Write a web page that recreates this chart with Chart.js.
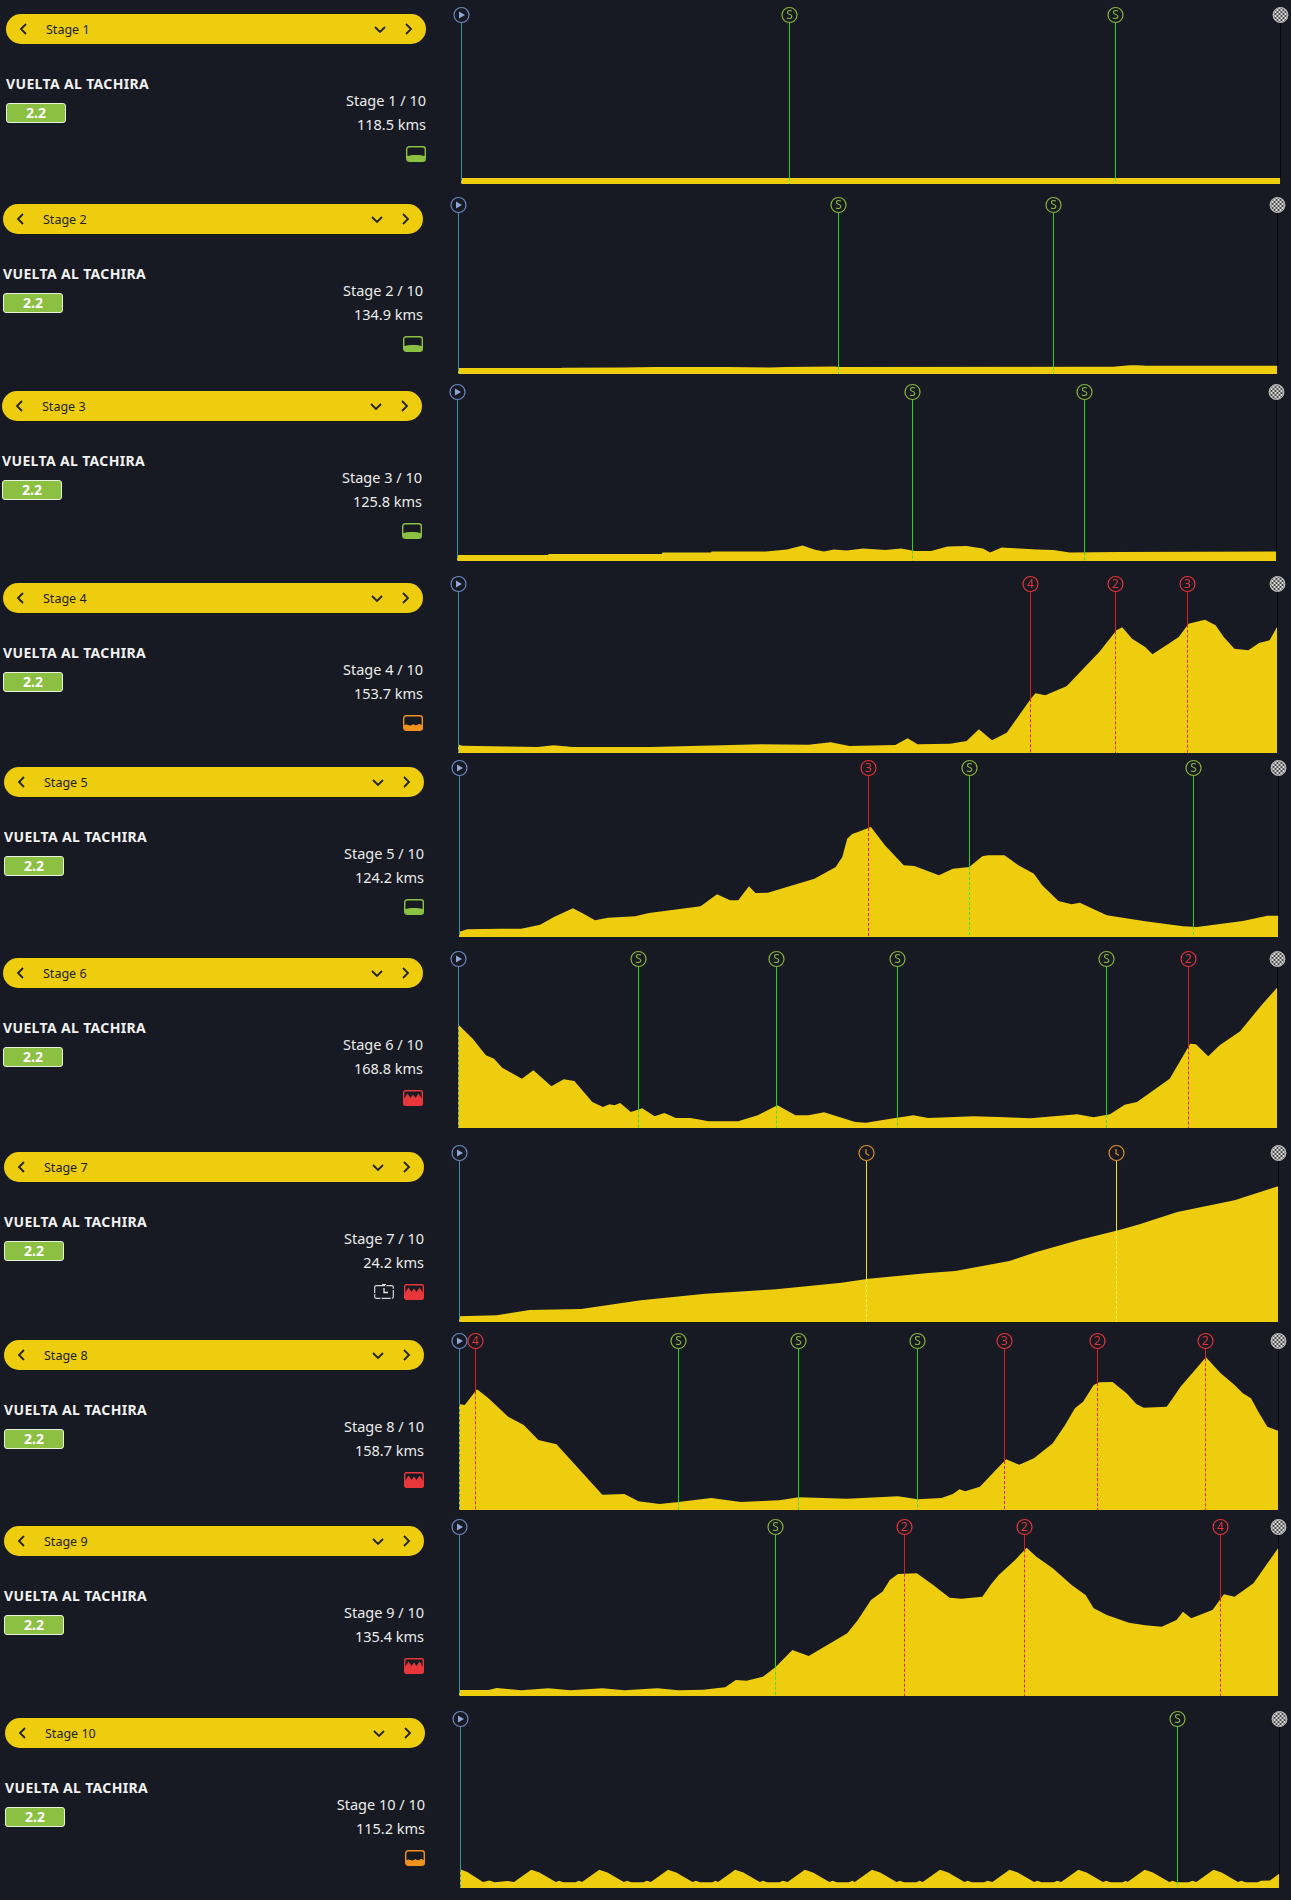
<!DOCTYPE html>
<html>
<head>
<meta charset="utf-8">
<title>Vuelta al Tachira</title>
<script src="https://cdn.jsdelivr.net/npm/chart.js@4"></script>
<style>
  html, body { margin: 0; padding: 0; background: #171a22; }
  body { position: relative; width: 1291px; height: 1900px; overflow: hidden; font-family: "Noto Sans", "Open Sans", sans-serif; color: #f0f0f0; }
  canvas { position: absolute; }
  .pill { position: absolute; width: 420px; height: 30px; border-radius: 15px; background: #edcd0e; color: #22231c; font-size: 12.5px; line-height: 31px; }
  .pill span { position: absolute; left: 40px; top: 0; }
  .pill svg { position: absolute; top: 9px; }
  .race { position: absolute; font-size: 14px; line-height: 20px; font-weight: 700; letter-spacing: 0.35px; color: #f2f2f2; }
  .badge { position: absolute; width: 58px; height: 18px; border: 1px solid #e9f3dc; border-radius: 3px; background: #8bc043; color: #fff; font-size: 14px; line-height: 18px; font-weight: 700; text-align: center; }
  .info { position: absolute; width: 200px; text-align: right; font-size: 14.5px; line-height: 20px; color: #ececec; }
  .terrain { position: absolute; }
</style>
</head>
<body>
<script>
const stageNames = ["Stage 1", "Stage 2", "Stage 3", "Stage 4", "Stage 5", "Stage 6", "Stage 7", "Stage 8", "Stage 9", "Stage 10"];
const stageCounts = ["Stage 1 / 10", "Stage 2 / 10", "Stage 3 / 10", "Stage 4 / 10", "Stage 5 / 10", "Stage 6 / 10", "Stage 7 / 10", "Stage 8 / 10", "Stage 9 / 10", "Stage 10 / 10"];
const stageKms = ["118.5 kms", "134.9 kms", "125.8 kms", "153.7 kms", "124.2 kms", "168.8 kms", "24.2 kms", "158.7 kms", "135.4 kms", "115.2 kms"];
const stageTerrain = ["flat", "flat", "flat", "hilly", "flat", "mountain", "mountain", "mountain", "mountain", "hilly"];
const raceName = "VUELTA AL TACHIRA";
const raceClass = "2.2";

// x = percent of the stage, y = height of the profile
const stage1X = [0, 100];
const stage1Y = [6, 6];
const stage1MarkX = [40.1, 79.9];
const stage1MarkType = ["S", "S"];

const stage2X = [0, 12.6, 12.7, 20, 24, 33, 38, 40, 46, 46.5, 80, 82, 83, 84, 100];
const stage2Y = [5.9, 5.9, 6.3, 6.5, 7, 7, 6.5, 7.1, 7.5, 7.1, 7.2, 8.7, 8.7, 8.2, 8.2];
const stage2MarkX = [46.4, 72.7];
const stage2MarkType = ["S", "S"];

const stage3X = [0, 11.1, 11.2, 25, 25.1, 31, 31.1, 37.7, 40.3, 42.2, 43.6, 44.8, 46, 47.6, 49.6, 52.3, 54.2, 55.9, 57.9, 59.9, 62.2, 64.2, 65.1, 66.5, 70.8, 72.8, 74.8, 80.7, 100];
const stage3Y = [6, 6, 7, 7, 8.5, 8.5, 9.5, 9.5, 11.5, 15.5, 11.5, 9.5, 11.5, 10.5, 12.5, 11, 12.5, 10, 10, 14.5, 15, 12.5, 8.5, 13.5, 11.5, 11, 8.5, 9, 9.5];
const stage3MarkX = [55.6, 76.6];
const stage3MarkType = ["S", "S"];

const stage4X = [0, 0.5, 9.7, 11.7, 14, 23.6, 29.6, 32.3, 36.9, 42.8, 45.5, 47.8, 53.4, 54.9, 56.1, 60.1, 62.1, 63.6, 65.2, 67, 69.9, 70.5, 71.7, 74.3, 78.3, 80.4, 81.1, 82.3, 83.9, 84.8, 86.9, 88, 89.2, 91.2, 92.5, 93.5, 94.8, 96.5, 97.8, 99.1, 100];
const stage4Y = [8.7, 7.3, 6, 7.7, 6, 6, 7.3, 7.7, 8.7, 8.3, 10.7, 7, 8, 14.7, 8.7, 9.3, 12, 23.7, 12.7, 20.3, 53.7, 59.7, 57.7, 66.7, 101, 122.7, 125.7, 114.3, 106, 98.7, 110, 116, 129.3, 133.3, 127.7, 116, 104.3, 102.7, 110, 112.7, 126];
const stage4MarkX = [69.9, 80.3, 89.1];
const stage4MarkType = ["4", "2", "3"];

const stage5X = [0, 1, 5, 7.6, 9.9, 11.6, 13.9, 15.2, 16.6, 18.2, 21.5, 23.2, 29.5, 31.5, 33.1, 34.1, 35.4, 36.2, 37.7, 43.4, 46, 46.8, 47.4, 48, 48.7, 50.3, 52, 54.3, 55.6, 58.6, 60.3, 62.3, 63.9, 64.6, 66.6, 68.3, 70.2, 71.2, 73.2, 74.8, 75.8, 79.1, 83.8, 88.4, 90.1, 95.7, 98.7, 100];
const stage5Y = [5, 7.7, 8.3, 8.3, 12.3, 20, 28.7, 23.3, 16.7, 19.3, 20.7, 24, 30.7, 42.7, 36.7, 36.7, 50.7, 44, 44.3, 58.3, 70, 80, 98.3, 103, 105, 110, 91.7, 71.7, 71, 61.7, 68.3, 70, 80.7, 81.7, 81.7, 71.7, 63.3, 51.7, 36, 32.7, 34.3, 21.7, 15.7, 10.7, 10, 16, 21.3, 21.3];
const stage5MarkX = [50, 62.3, 89.7];
const stage5MarkType = ["3", "S", "S"];

const stage6X = [0, 1.8, 3.4, 4.4, 5.4, 7.8, 9.2, 11.4, 12.9, 14.2, 16.4, 17.7, 18.5, 19.1, 19.8, 21.1, 22.5, 24, 25.2, 26.6, 28.4, 30.6, 34.2, 36.6, 39, 41.2, 42.8, 44.7, 48.5, 49.8, 53.4, 55.6, 57.4, 63, 66, 69.9, 75.6, 77.6, 79.6, 81.4, 82.9, 86.9, 89.4, 90.1, 91.6, 93, 95.5, 98.1, 100];
const stage6Y = [103.7, 89.3, 72.7, 69.3, 60.3, 49.3, 57.7, 41.7, 48.7, 47, 26, 21, 23.7, 22.7, 25, 16, 19.7, 11.7, 15, 10, 10, 6.7, 6.7, 12.7, 22.7, 12.7, 12.7, 15.7, 6, 5.3, 10, 12.7, 10, 11.7, 11, 9.7, 13.7, 10.7, 13.7, 23.3, 26, 49.3, 84.3, 83.7, 71.7, 82.7, 96.7, 122.7, 140.3];
const stage6MarkX = [22, 38.9, 53.7, 79.2, 89.2];
const stage6MarkType = ["S", "S", "S", "S", "2"];

const stage7X = [0, 4.6, 8.6, 14.9, 22.2, 30.1, 38.7, 46.7, 50, 57.3, 60.6, 67.2, 70.5, 75.8, 80.5, 83.1, 87.7, 94.7, 100];
const stage7Y = [5.7, 6.7, 12, 13, 21.7, 28.3, 32.7, 39.3, 43.3, 49, 51, 61, 70, 82.3, 91.7, 97.7, 110, 121.7, 135.7];
const stage7MarkX = [49.7, 80.3];
const stage7MarkType = ["T", "T"];

const stage8X = [0, 0.7, 2.2, 3.6, 6, 7.9, 9.7, 11.9, 17.5, 20.2, 21.9, 24.5, 26.8, 30.8, 34.4, 39.1, 41.5, 47.4, 53.6, 56, 58.9, 60.3, 61.1, 61.8, 63.6, 66.8, 68.4, 70.2, 72.5, 74, 75.2, 76.2, 77.5, 78.2, 79.8, 81.5, 82.7, 83.6, 86.4, 87, 88.1, 91.2, 93, 94.7, 95.7, 96.7, 97.7, 98.7, 100];
const stage8Y = [106, 105, 120.7, 111.7, 93.3, 85, 70, 65.7, 15.3, 16, 8.7, 6, 8, 12, 8, 9.7, 12.7, 11.3, 13.7, 10.7, 12, 16, 20.7, 18.7, 23.3, 50.7, 45.3, 51.7, 66.7, 85, 101.7, 108.3, 125, 127.7, 128, 116.7, 106, 102.3, 103.3, 110, 123.3, 152.7, 136.7, 125, 116.7, 111.7, 96.7, 83.3, 79.3];
const stage8MarkX = [2, 26.8, 41.5, 56, 66.6, 78, 91.1];
const stage8MarkType = ["4", "S", "S", "S", "3", "2", "2"];

const stage9X = [0, 3.6, 4.6, 7.6, 10.9, 13.6, 17.5, 20.2, 24.2, 26.8, 29.8, 32.5, 33.8, 35.1, 37.1, 38.7, 40.7, 42.7, 47.4, 48.7, 50.3, 51.7, 52.6, 53.6, 55.9, 57.9, 59.9, 61.3, 63.9, 64.9, 65.9, 67.9, 69.3, 70.5, 72.5, 74.8, 76.5, 77.5, 79.1, 81.8, 83.8, 85.8, 87.6, 88.4, 89.4, 92, 93.4, 94.7, 97, 100];
const stage9Y = [6, 6, 8, 5.7, 7.7, 5.7, 7.7, 5.7, 7.7, 5.7, 6.3, 8.7, 16, 15.3, 19.3, 29.3, 46, 40, 62.7, 76, 96, 104.3, 116, 122, 122.7, 111, 98.3, 97.3, 99.3, 111, 121, 136, 148.3, 139.3, 127.7, 111, 101, 87.7, 81, 73.3, 70.7, 69.3, 76, 84.3, 77.7, 86, 101.7, 99.3, 112.7, 147.7];
const stage9MarkX = [38.7, 54.4, 69.1, 93];
const stage9MarkType = ["S", "2", "2", "4"];

const stage10X = [0, 0.9, 2.8, 3.6, 4.2, 5.8, 6.6, 8.7, 9.7, 11.7, 12.1, 12.6, 14.1, 14.5, 14.9, 17, 18, 20, 20.4, 20.9, 22.4, 22.8, 23.3, 25.4, 26.4, 28.4, 28.8, 29.3, 30.8, 31.2, 31.5, 33.6, 34.6, 36.6, 37, 37.5, 39, 39.4, 40, 42.1, 43.1, 45.1, 45.5, 46, 47.5, 47.9, 48.2, 50.3, 51.3, 53.3, 53.7, 54.2, 55.7, 56.1, 56.5, 58.6, 59.6, 61.6, 62, 62.5, 64, 64.4, 65, 67.1, 68.1, 70.1, 70.5, 71, 72.5, 72.9, 73.4, 75.5, 76.5, 78.5, 78.9, 79.4, 80.9, 81.3, 81.5, 83.6, 84.6, 86.6, 87, 87.5, 89, 89.4, 89.9, 92, 93, 95, 95.4, 95.9, 97.4, 97.8, 98.9, 100];
const stage10Y = [18.7, 16, 6, 7.5, 5.7, 7, 6, 18.3, 15.5, 6, 7.3, 5.7, 5.7, 7.2, 6, 18.3, 15.5, 6, 7.3, 5.7, 5.7, 7.2, 6, 18.3, 15.5, 6, 7.3, 5.7, 5.7, 7.2, 6, 18.3, 15.5, 6, 7.3, 5.7, 5.7, 7.2, 6, 18.3, 15.5, 6, 7.3, 5.7, 5.7, 7.2, 6, 18.3, 15.5, 6, 7.3, 5.7, 5.7, 7.2, 6, 18.3, 15.5, 6, 7.3, 5.7, 5.7, 7.2, 6, 18.3, 15.5, 6, 7.3, 5.7, 5.7, 7.2, 6, 18.3, 15.5, 6, 7.3, 5.7, 5.7, 7.2, 6, 18.3, 15.5, 6, 7.3, 5.7, 5.7, 7.2, 6, 18.3, 15.5, 6, 7.3, 5.7, 5.7, 7.2, 7.5, 14.3];
const stage10MarkX = [87.6];
const stage10MarkType = ["S"];

const stageXs = [stage1X, stage2X, stage3X, stage4X, stage5X, stage6X, stage7X, stage8X, stage9X, stage10X];
const stageYs = [stage1Y, stage2Y, stage3Y, stage4Y, stage5Y, stage6Y, stage7Y, stage8Y, stage9Y, stage10Y];
const stageMarkXs = [stage1MarkX, stage2MarkX, stage3MarkX, stage4MarkX, stage5MarkX, stage6MarkX, stage7MarkX, stage8MarkX, stage9MarkX, stage10MarkX];
const stageMarkTypes = [stage1MarkType, stage2MarkType, stage3MarkType, stage4MarkType, stage5MarkType, stage6MarkType, stage7MarkType, stage8MarkType, stage9MarkType, stage10MarkType];

// page layout of each row, the screenshot is not aligned perfectly
const rowLefts = [461, 458, 457, 458, 459, 458, 459, 459, 459, 460];
const rowBases = [184, 374, 561, 753, 937, 1128, 1322, 1510, 1696, 1888];

const PLOT_W = 819, PLOT_H = 169, PAD = 9;
const YELLOW = "#edcd0e";

const markStyles = {
  S: { ring: "#86b53c", above: "#22d422", below: "#3fdc2c" },
  T: { ring: "#e08e22", above: "#f5dc10", below: "#fff06a" },
  "2": { ring: "#e5323a", above: "#d81e1e", below: "#e52020" },
  "3": { ring: "#e5323a", above: "#d81e1e", below: "#e52020" },
  "4": { ring: "#e5323a", above: "#d81e1e", below: "#e52020" },
  start: { ring: "#6c8ac2", above: "#3a93a1", below: "#3a93a1" },
  finish: { ring: "#c8c8c8", above: "#05060a", below: "#1a1a12" },
};

const chevron = (pts, left) =>
  `<svg width="12" height="12" style="left:${left}px"><polyline points="${pts}" fill="none" stroke="#22231c" stroke-width="1.8"/></svg>`;

const terrainIcons = {
  flat: `<rect x=".7" y=".7" width="18.6" height="14.6" rx="2.5" fill="none" stroke="#8bc043" stroke-width="1.4"/><path d="M1 10c4-1.5 14-1.5 18 0v3a2 2 0 0 1-2 2H3a2 2 0 0 1-2-2z" fill="#8bc043"/>`,
  hilly: `<rect x=".7" y=".7" width="18.6" height="14.6" rx="2.5" fill="none" stroke="#f0921e" stroke-width="1.4"/><path d="M1 10.5c3-2 4 0 6 0s3-2 4-1 3 1 4 0 3 0 4 1v2.5a2 2 0 0 1-2 2H3a2 2 0 0 1-2-2z" fill="#f0921e"/>`,
  mountain: `<rect x=".7" y=".7" width="18.6" height="14.6" rx="1.5" fill="none" stroke="#e8373a" stroke-width="1.4"/><path d="M1 15V9l3.5-5.5L7.5 8 10 4.5 12.5 8l3-4.5L19 9v6z" fill="#e8373a"/>`,
  clock: `<rect x=".7" y="1.7" width="18.6" height="12.6" rx="1.5" fill="none" stroke="#d8d8d8" stroke-width="1.2" stroke-dasharray="9 1.2"/><path d="M10 4v4.5h4" fill="none" stroke="#e6e6e6" stroke-width="1.3"/><path d="M8 .5h4" stroke="#d8d8d8"/>`,
};

function addPanel(i) {
  const left = rowLefts[i] - 455, top = rowBases[i] - PLOT_H;
  const pill = document.createElement("div");
  pill.className = "pill";
  pill.style.left = left + "px";
  pill.style.top = (top - 1) + "px";
  pill.innerHTML = `<span>${stageNames[i]}</span>` +
    chevron("8,1 3,6 8,11", 12) + chevron("1,4 6,9 11,4", 368) + chevron("4,1 9,6 4,11", 396);
  document.body.appendChild(pill);

  const race = document.createElement("div");
  race.className = "race";
  race.style.left = left + "px";
  race.style.top = (top + 59) + "px";
  race.textContent = raceName;
  document.body.appendChild(race);

  const badge = document.createElement("div");
  badge.className = "badge";
  badge.style.left = left + "px";
  badge.style.top = (top + 88) + "px";
  badge.textContent = raceClass;
  document.body.appendChild(badge);

  [[stageCounts[i], 75], [stageKms[i], 99]].forEach(([text, dy]) => {
    const info = document.createElement("div");
    info.className = "info";
    info.style.left = (left + 220) + "px";
    info.style.top = (top + dy) + "px";
    info.textContent = text;
    document.body.appendChild(info);
  });

  const icons = stageNames[i] === "Stage 7" ? ["clock", stageTerrain[i]] : [stageTerrain[i]];
  icons.forEach((name, k) => {
    const svg = document.createElementNS("http://www.w3.org/2000/svg", "svg");
    svg.setAttribute("class", "terrain");
    svg.setAttribute("width", "20");
    svg.setAttribute("height", "16");
    svg.style.left = (left + 400 - (icons.length - 1 - k) * 30) + "px";
    svg.style.top = (top + 131) + "px";
    svg.innerHTML = terrainIcons[name];
    document.body.appendChild(svg);
  });
}

// height of the profile under a marker, for where the solid line ends
function profileAt(xs, ys, x) {
  for (let k = 1; k < xs.length; k++) {
    if (x <= xs[k]) {
      const t = (x - xs[k - 1]) / (xs[k] - xs[k - 1]);
      return ys[k - 1] + t * (ys[k] - ys[k - 1]);
    }
  }
  return ys[ys.length - 1];
}

function drawChecker(ctx, px, py, r) {
  ctx.save();
  ctx.beginPath();
  ctx.arc(px, py, r, 0, Math.PI * 2);
  ctx.clip();
  ctx.fillStyle = "#dcdcdc";
  ctx.fillRect(px - r, py - r, r * 2, r * 2);
  ctx.fillStyle = "#4a4a4a";
  for (let a = -4; a < 4; a++) {
    for (let b = -4; b < 4; b++) {
      if ((a + b) % 2 === 0) ctx.fillRect(px + a * 2, py + b * 2, 2, 2);
    }
  }
  ctx.restore();
  ctx.beginPath();
  ctx.arc(px, py, r - 0.4, 0, Math.PI * 2);
  ctx.lineWidth = 1;
  ctx.strokeStyle = "#b8b8b8";
  ctx.stroke();
}

// keeps the 1px marker lines on whole pixels so they stay crisp
const snapPlugin = {
  id: "snapLines",
  afterDatasetsUpdate(chart) {
    chart.data.datasets.forEach((ds, k) => {
      if (ds.fill) return;
      chart.getDatasetMeta(k).data.forEach((p) => { p.x = Math.floor(p.x) + 0.5; });
    });
  },
};

const badgePlugin = {
  id: "stageBadges",
  afterDatasetsDraw(chart, args, opts) {
    const ctx = chart.ctx;
    const xScale = chart.scales.x, yScale = chart.scales.y;
    const py = yScale.getPixelForValue(PLOT_H);
    opts.marks.forEach(([x, type]) => {
      const px = Math.floor(xScale.getPixelForValue(x)) + 0.5;
      const style = markStyles[type];
      if (type === "finish") {
        drawChecker(ctx, px, py, 7.8);
        return;
      }
      ctx.beginPath();
      ctx.arc(px, py, 7.5, 0, Math.PI * 2);
      ctx.fillStyle = "#171a22";
      ctx.fill();
      ctx.lineWidth = 1.2;
      ctx.strokeStyle = style.ring;
      ctx.stroke();
      if (type === "start") {
        ctx.beginPath();
        ctx.moveTo(px - 2.5, py - 3.5);
        ctx.lineTo(px + 3.5, py);
        ctx.lineTo(px - 2.5, py + 3.5);
        ctx.closePath();
        ctx.fillStyle = "#8fa6d6";
        ctx.fill();
      } else if (type === "T") {
        ctx.beginPath();
        ctx.moveTo(px - 0.5, py - 4);
        ctx.lineTo(px - 0.5, py + 0.5);
        ctx.lineTo(px + 2.5, py + 2.5);
        ctx.strokeStyle = style.ring;
        ctx.stroke();
      } else {
        ctx.fillStyle = style.ring;
        ctx.font = '12px "Noto Sans"';
        ctx.textAlign = "center";
        ctx.textBaseline = "middle";
        ctx.fillText(type, px, py + 0.5);
      }
    });
  },
};

function drawStage(i) {
  const xs = stageXs[i], ys = stageYs[i];
  const canvas = document.createElement("canvas");
  canvas.width = PLOT_W + PAD * 2;
  canvas.height = PLOT_H + PAD + 1;
  canvas.style.left = (rowLefts[i] - PAD) + "px";
  canvas.style.top = (rowBases[i] - PLOT_H - PAD) + "px";
  document.body.appendChild(canvas);

  // start and finish always sit on the two ends of the stage
  const marks = [[0, "start"]]
    .concat(stageMarkXs[i].map((x, k) => [x, stageMarkTypes[i][k]]))
    .concat([[100, "finish"]]);

  const datasets = [];
  marks.forEach(([x, type]) => {
    const elev = profileAt(xs, ys, x);
    datasets.push({
      data: [{ x: x, y: PLOT_H }, { x: x, y: elev }],
      borderColor: markStyles[type].above,
      borderWidth: 1,
      pointRadius: 0,
      clip: false,
      order: 1,
    });
    datasets.push({
      data: [{ x: x, y: elev }, { x: x, y: 0 }],
      borderColor: markStyles[type].below,
      borderWidth: 1,
      borderDash: [3, 2],
      pointRadius: 0,
      clip: false,
      order: 1,
    });
  });
  datasets.push({
    label: stageNames[i],
    data: xs.map((x, k) => ({ x: x, y: ys[k] })),
    borderWidth: 0,
    backgroundColor: YELLOW,
    fill: "origin",
    pointRadius: 0,
    tension: 0,
    order: 2,
  });

  new Chart(canvas, {
    type: "line",
    data: { datasets: datasets },
    options: {
      responsive: false,
      animation: false,
      layout: { padding: { left: PAD, right: PAD, top: PAD, bottom: 1 } },
      scales: {
        x: { type: "linear", min: 0, max: 100, display: false },
        y: { min: 0, max: PLOT_H, display: false },
      },
      plugins: {
        legend: { display: false },
        tooltip: { enabled: false },
        stageBadges: { marks: marks },
      },
    },
    plugins: [snapPlugin, badgePlugin],
  });
}

stageNames.forEach((name, i) => {
  addPanel(i);
  drawStage(i);
});
</script>
</body>
</html>
